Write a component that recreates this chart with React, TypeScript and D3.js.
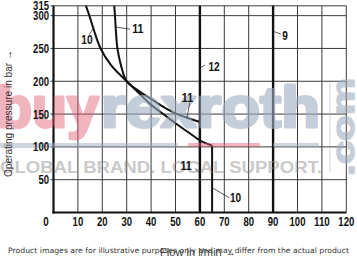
import React from 'react';
import * as d3 from 'd3';

const xTicks = [10, 20, 30, 40, 50, 60, 70, 80, 90, 100, 110, 120];
const yTicks = [50, 100, 150, 200, 250, 300, 315];
const xGrid = [10, 20, 30, 40, 50, 60, 70, 80, 90, 100, 110, 120];
const yGrid = [50, 100, 150, 200, 250, 300, 315];

const curve10: [number, number][] = [[13.3, 315], [14.7, 300], [16.8, 275], [19.3, 250], [23.5, 225], [30, 200], [35, 182], [40, 164], [45, 150], [50, 136], [55, 123], [60, 110], [65, 102]];
const curve10Drop: [number, number][] = [[65, 102], [65, 0]];
const curve11: [number, number][] = [[24.9, 315], [25.2, 300], [25.6, 275], [26.2, 250], [27.6, 225], [30, 200], [35, 185], [40, 173], [45, 161], [50, 151], [55, 144], [60, 138]];
const curve11Drop: [number, number][] = [[60, 138], [60, 0]];
const line12: [number, number][] = [[60, 0], [60, 315]];
const line9: [number, number][] = [[90, 0], [90, 315]];

const annotations = [
  { t: '10', x: 13.7, y: 263, lx1: 14.7, ly1: 271.5, lx2: 16.7, ly2: 283 },
  { t: '11', x: 34.6, y: 280, lx1: 25.6, ly1: 282.5, lx2: 31.3, ly2: 279.6 },
  { t: '12', x: 65.8, y: 223, lx1: 60.3, ly1: 221, lx2: 62.1, ly2: 224.7 },
  { t: '9', x: 94.9, y: 269, lx1: 90.5, ly1: 275.5, lx2: 93.2, ly2: 272 },
  { t: '11', x: 54.9, y: 176, lx1: 55.9, ly1: 167.3, lx2: 54.6, ly2: 143.5 },
  { t: '11', x: 54.3, y: 71, lx1: 58, ly1: 67.3, lx2: 60, ly2: 59.7 },
  { t: '10', x: 74.6, y: 23, lx1: 65.3, ly1: 37, lx2: 72, ly2: 22.6 },
];

const W = 357, H = 258;
const x = d3.scaleLinear().domain([0, 120]).range([53.5, 346.3]);
const y = d3.scaleLinear().domain([0, 315]).range([212.5, 5.8]);

const tickFont = "'Liberation Sans', Arial, sans-serif";
const numLen = (s: string, w: number) => s.length * w;

export default function App() {
  const line = d3.line<[number, number]>().x(d => x(d[0])).y(d => y(d[1]));
  const smooth = d3.line<[number, number]>().x(d => x(d[0])).y(d => y(d[1])).curve(d3.curveCatmullRom.alpha(0.5));
  const wmFont = "'Liberation Sans', Arial, sans-serif";
  return (
    <svg width={W} height={H} style={{ position: 'absolute', left: 0, top: 0, background: '#fff' }}>
      <rect width={W} height={H} fill="#fff" />
      {/* grid */}
      {xGrid.map(v => (
        <line key={'gx' + v} x1={x(v)} x2={x(v)} y1={y(0)} y2={y(315)} stroke="#3a3a3a" strokeWidth={1} />
      ))}
      {yGrid.map(v => (
        <line key={'gy' + v} x1={x(0) - 3} x2={x(120)} y1={y(v)} y2={y(v)} stroke="#3a3a3a" strokeWidth={1} />
      ))}
      {/* axes */}
      <line x1={x(0)} x2={x(0)} y1={y(0) + 1} y2={y(315)} stroke="#111" strokeWidth={2.2} />
      <line x1={x(0) - 1} x2={x(120)} y1={y(0)} y2={y(0)} stroke="#111" strokeWidth={2.2} />
      {/* lines */}
      <path d={line(line12) || ''} stroke="#111" strokeWidth={2.4} fill="none" />
      <path d={line(line9) || ''} stroke="#111" strokeWidth={2.4} fill="none" />
      <path d={smooth(curve10) || ''} stroke="#111" strokeWidth={2} fill="none" />
      <path d={line(curve10Drop) || ''} stroke="#111" strokeWidth={2} fill="none" />
      <path d={smooth(curve11) || ''} stroke="#111" strokeWidth={2} fill="none" />
      <path d={line(curve11Drop) || ''} stroke="#111" strokeWidth={2} fill="none" />
      {/* watermark */}
      <g opacity={0.5}>
        <rect x={0} y={143} width={178} height={5} fill="#9fadbf" />
        <rect x={273} y={143} width={46} height={4} fill="#9fadbf" />
        <line x1={330} x2={330} y1={80} y2={172} stroke="#9fadbf" strokeWidth={1} />
      </g>
      <g opacity={0.45}>
        <rect x={188} y={143} width={72} height={4} fill="#e25c73" />
        <text x={-3} y={127} fontFamily={wmFont} fontWeight="bold" fontSize={58} textLength={102} lengthAdjust="spacingAndGlyphs" fill="#e25c73" stroke="#e25c73" strokeWidth={3} strokeLinejoin="round">buy</text>
      </g>
      <g opacity={0.6}>
        <text x={101} y={127} fontFamily={wmFont} fontWeight="bold" fontSize={58} textLength={219} lengthAdjust="spacingAndGlyphs" fill="#9fadbf" stroke="#9fadbf" strokeWidth={3} strokeLinejoin="round">rexroth</text>
        <text transform="translate(354,176) rotate(-90)" fontFamily={wmFont} fontWeight="bold" fontSize={32} textLength={98} lengthAdjust="spacingAndGlyphs" fill="#9fadbf" stroke="#9fadbf" strokeWidth={1.5} strokeLinejoin="round">.com</text>
      </g>
      <text x={0} y={173} fontFamily={wmFont} fontWeight="bold" fontSize={16} textLength={322} lengthAdjust="spacingAndGlyphs" fill="#888" opacity={0.45}>GLOBAL BRAND. LOCAL SUPPORT.</text>
      {/* annotations */}
      {annotations.map((a, i) => (
        <g key={'a' + i}>
          <line x1={x(a.lx1)} y1={y(a.ly1)} x2={x(a.lx2)} y2={y(a.ly2)} stroke="#333" strokeWidth={0.8} />
          <text x={x(a.x)} y={y(a.y)} dy="0.36em" textAnchor="middle" fontFamily={tickFont} fontWeight="bold" fontSize={12.5} textLength={numLen(a.t, 5.6)} lengthAdjust="spacingAndGlyphs" fill="#111">{a.t}</text>
        </g>
      ))}
      {/* tick labels */}
      {yTicks.map(v => (
        <text key={'yt' + v} x={x(0) - 4.5} y={y(v)} dy="0.36em" textAnchor="end" fontFamily={tickFont} fontWeight="bold" fontSize={12.5} textLength={numLen(String(v), 5.3)} lengthAdjust="spacingAndGlyphs" fill="#111">{v}</text>
      ))}
      {xTicks.map(v => (
        <text key={'xt' + v} x={x(v)} y={221} dy="0.36em" textAnchor="middle" fontFamily={tickFont} fontWeight="bold" fontSize={12.5} textLength={numLen(String(v), 5.3)} lengthAdjust="spacingAndGlyphs" fill="#111">{v}</text>
      ))}
      <text x={46} y={221} dy="0.36em" textAnchor="middle" fontFamily={tickFont} fontWeight="bold" fontSize={12.5} textLength={5.5} lengthAdjust="spacingAndGlyphs" fill="#111">0</text>
      {/* axis titles */}
      <text transform="translate(12,177) rotate(-90)" fontFamily="'Liberation Sans', Arial, sans-serif" fontSize={11.5} textLength={127} lengthAdjust="spacingAndGlyphs" fill="#333">Operating pressure in bar →</text>
      <text x={8} y={252.5} fontFamily="'DejaVu Sans', sans-serif" fontSize={7.5} textLength={341} lengthAdjust="spacingAndGlyphs" fill="#333">Product images are for illustrative purposes only and may differ from the actual product</text>
      <text x={160} y={255.5} fontFamily="'Liberation Sans', Arial, sans-serif" fontSize={11.5} textLength={76} lengthAdjust="spacingAndGlyphs" fill="#444">Flow in l/min →</text>
    </svg>
  );
}
